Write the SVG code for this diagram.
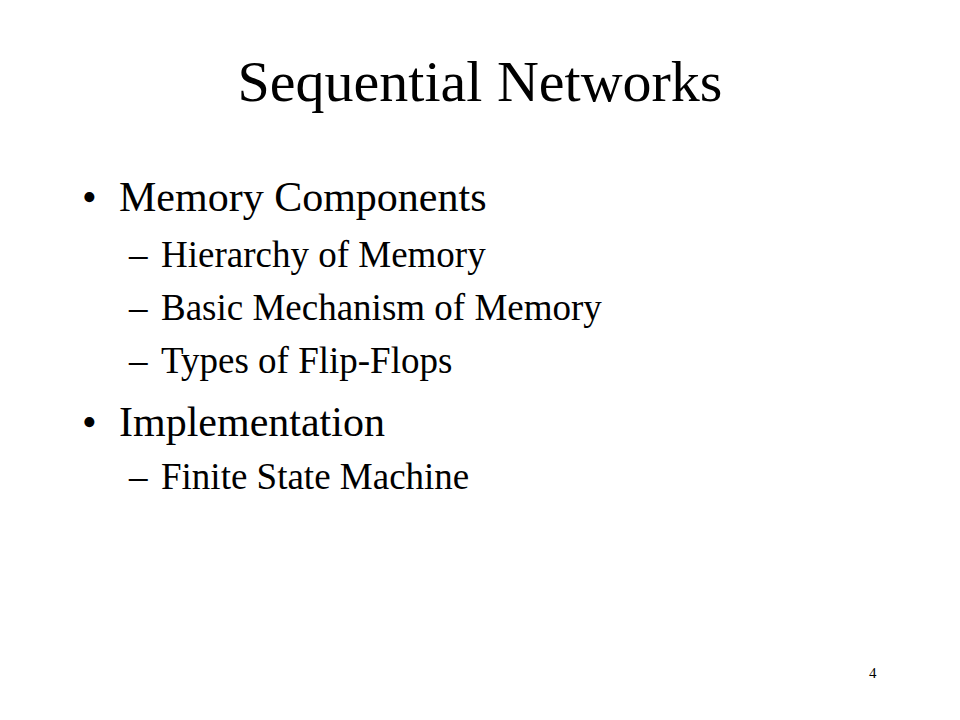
<svg xmlns="http://www.w3.org/2000/svg" width="960" height="720" viewBox="0 0 960 720">
<style>
text{font-family:"Liberation Serif","Times New Roman",serif;fill:#000}
.title{font-size:58px}
.l1{font-size:42px}
.l2{font-size:37px}
.pg{font-size:15px}
</style>
<rect width="960" height="720" fill="#fff"/>
<g id="title"><text class="title" x="480" y="101" text-anchor="middle">Sequential Networks</text></g>
<g id="item1">
<text class="l1" x="82" y="211">•</text>
<text class="l1" x="119" y="211">Memory Components</text>
</g>
<g id="item1a">
<text class="l2" x="129" y="267">–</text>
<text class="l2" x="161" y="267">Hierarchy of Memory</text>
</g>
<g id="item1b">
<text class="l2" x="129" y="320">–</text>
<text class="l2" x="161" y="320">Basic Mechanism of Memory</text>
</g>
<g id="item1c">
<text class="l2" x="129" y="373">–</text>
<text class="l2" x="161" y="373">Types of Flip-Flops</text>
</g>
<g id="item2">
<text class="l1" x="82" y="436">•</text>
<text class="l1" x="119" y="436">Implementation</text>
</g>
<g id="item2a">
<text class="l2" x="129" y="489">–</text>
<text class="l2" x="161" y="489">Finite State Machine</text>
</g>
<g id="page"><text class="pg" x="869" y="678">4</text></g>
<g id="connectors"/>
</svg>
